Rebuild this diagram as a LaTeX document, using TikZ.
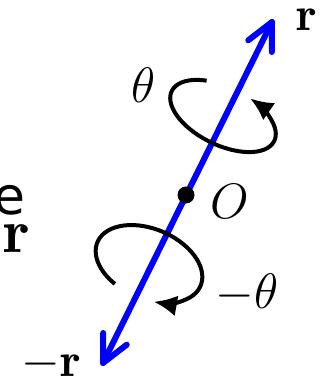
\documentclass[tikz,border=0pt]{standalone}
\usepackage{fontspec}
\newfontfamily\sanse{DejaVu Sans}
\usetikzlibrary{arrows.meta,calc}
\begin{document}
\begin{tikzpicture}[x=0.5pt,y=0.5pt,
  axis/.style={draw=blue, line width=3pt, line cap=round, line join=round},
  rot/.style={draw=black, line width=2pt, -{Latex[length=11.5pt,width=10.5pt]}},
  lbl/.style={font=\fontsize{24}{28}\selectfont, inner sep=0pt},
  biglbl/.style={font=\fontsize{31}{36}\selectfont, inner sep=0pt}]
\useasboundingbox (0,0) rectangle (322,379);
\coordinate (top) at (272,357);
\coordinate (bot) at (103,16);
\draw[axis] (bot) -- (top);
\draw[axis] ($(top)!15pt!26:(bot)$) -- (top) -- ($(top)!15pt!-26:(bot)$);
\draw[axis] ($(bot)!15pt!26:(top)$) -- (bot) -- ($(bot)!15pt!-26:(top)$);
\begin{scope}[shift={(223,263)}, rotate=-26]
  \draw[rot] (122:57 and 29) arc[start angle=122, end angle=433, x radius=57, y radius=29];
\end{scope}
\begin{scope}[shift={(149,115)}, rotate=-23]
  \draw[rot] (245:56 and 35) arc[start angle=245, end angle=-70, x radius=56, y radius=35];
\end{scope}
\node[circle, fill=black, minimum size=8.5pt, inner sep=0pt] (O) at (186,184) {};
\node[lbl] (rlab) at (307,359) {$\mathbf{r}$};
\node[lbl] (mrlab) at (51,15) {$-\mathbf{r}$};
\node[lbl] (th) at (143.5,293.5) {$\theta$};
\node[lbl] (mth) at (247,86) {$-\theta$};
\node[lbl] (olab) at (230,177) {$O$};
\node[font=\sanse\fontsize{26}{30}\selectfont, inner sep=0pt] (e) at (9,179) {e};
\node[biglbl] (lr) at (16.5,140) {$\mathbf{r}$};
\end{tikzpicture}
\end{document}
